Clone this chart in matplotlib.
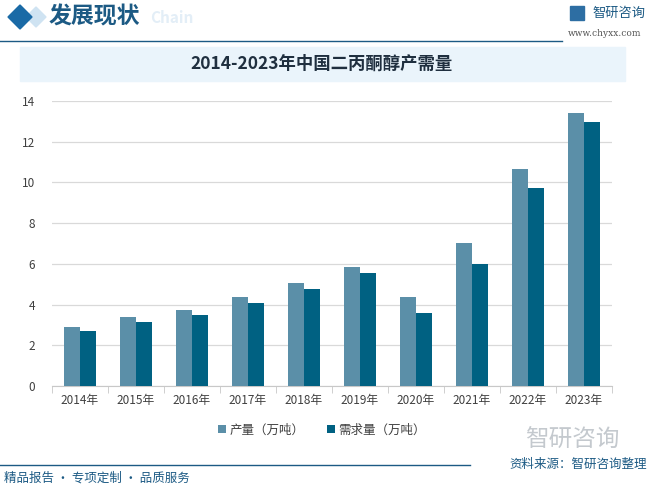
import numpy as np
import matplotlib.pyplot as plt
from matplotlib.patches import Rectangle, Polygon

plt.rcParams['font.family'] = ['Noto Sans CJK SC', 'DejaVu Sans']

# 数据
years = ['2014年', '2015年', '2016年', '2017年', '2018年',
         '2019年', '2020年', '2021年', '2022年', '2023年']
production = [2.92, 3.37, 3.71, 4.36, 5.05, 5.84, 4.36, 7.03, 10.64, 13.40]
demand = [2.72, 3.12, 3.47, 4.06, 4.75, 5.54, 3.61, 5.99, 9.75, 12.96]

c_prod = '#5b8fa8'
c_dem = '#006182'
c_dark = '#1c5a84'

fig = plt.figure(figsize=(6.49, 4.90), dpi=100)
W, H = 649, 490

def fx(x):
    return x / W

def fy(y):
    return 1 - y / H

# --- en-tête ---
fig.patches.append(Polygon([[fx(8), fy(17)], [fx(20), fy(5)], [fx(32), fy(17)], [fx(20), fy(29)]],
                           closed=True, transform=fig.transFigure, color='#1a6aa6'))
fig.patches.append(Polygon([[fx(26), fy(17)], [fx(36), fy(7)], [fx(46), fy(17)], [fx(36), fy(27)]],
                           closed=True, transform=fig.transFigure, color='#cfe3f2', zorder=0))
fig.text(fx(49), fy(17), '发展现状', fontsize=16.5, fontweight='bold', color=c_dark, va='center')
fig.text(fx(150), fy(18), 'Chain', fontsize=11, fontweight='bold', color='#e3eef7', va='center')
fig.add_artist(plt.Line2D([0, fx(562)], [fy(41), fy(41)], color=c_dark, lw=1.0))
fig.text(fx(592), fy(13), '智研咨询', fontsize=9.5, color=c_dark, va='center')
fig.patches.append(Rectangle((fx(570), fy(20)), fx(14), 14 / H, transform=fig.transFigure,
                             color='#2d6ea3'))
fig.text(fx(568), fy(34), 'www.chyxx.com', fontsize=6.5, color='#555555', va='center',
         family='DejaVu Serif')

# --- bande de titre ---
fig.patches.append(Rectangle((fx(20), fy(81)), fx(605), 34 / H, transform=fig.transFigure,
                             color='#eaf4fb', zorder=0))
fig.text(fx(322), fy(64), '2014-2023年中国二丙酮醇产需量', fontsize=12.5, fontweight='bold',
         color='#1f2f3f', ha='center', va='center')

# --- graphique ---
ax = fig.add_axes([fx(52), fy(386), fx(560), (386 - 101) / H])
x = np.arange(len(years))
w = 0.29
ax.bar(x - w / 2, production, w, color=c_prod, label='产量（万吨）', zorder=3)
ax.bar(x + w / 2, demand, w, color=c_dem, label='需求量（万吨）', zorder=3)
ax.set_ylim(0, 14)
ax.set_yticks(range(0, 15, 2))
ax.set_xlim(-0.5, len(years) - 0.5)
ax.set_xticks(x)
ax.set_xticklabels(years)
ax.set_xticks(np.arange(-0.5, len(years), 1), minor=True)
ax.tick_params(axis='x', which='major', length=0, labelsize=8.5, labelcolor='#404040', pad=6)
ax.tick_params(axis='x', which='minor', length=5, color='#c8c8c8')
ax.tick_params(axis='y', length=0, labelsize=8.5, labelcolor='#404040', pad=12)
ax.grid(axis='y', color='#d9d9d9', lw=0.9, zorder=0)
for s in ['top', 'right', 'left']:
    ax.spines[s].set_visible(False)
ax.spines['bottom'].set_color('#c8c8c8')
ax.set_facecolor('none')

fig.legend(loc='center', bbox_to_anchor=(fx(322), fy(430)), ncol=2, frameon=False,
           fontsize=9, handlelength=0.6, handleheight=0.6, handletextpad=0.3,
           columnspacing=1.8, labelcolor='#404040')

# --- pied de page ---
fig.text(fx(620), fy(440), '智研咨询', fontsize=17, color='#c4c9ce', ha='right', va='center')
fig.add_artist(plt.Line2D([0, fx(470)], [fy(465), fy(465)], color=c_dark, lw=1.0))
fig.text(fx(647), fy(464), '资料来源：智研咨询整理', fontsize=9, color=c_dark, ha='right', va='center')
fig.text(fx(4), fy(478), '精品报告 · 专项定制 · 品质服务', fontsize=9, color=c_dark, va='center')

fig.savefig('out.png', dpi=100)
